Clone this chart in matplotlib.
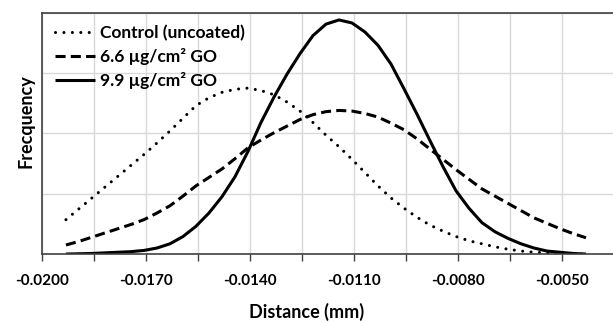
"""Frequency vs distance curves for control and GO-coated samples."""

import matplotlib

matplotlib.use("Agg")

import matplotlib.pyplot as plt  # noqa: E402
from matplotlib.ticker import FixedLocator, FixedFormatter  # noqa: E402

# distance (mm), common sample points for all three series
distance = [-0.0193, -0.018925, -0.01855, -0.018175, -0.0178, -0.017425,
            -0.01705, -0.016675, -0.0163, -0.015925, -0.01555, -0.015175,
            -0.0148, -0.014425, -0.01405, -0.013675, -0.0133, -0.012925,
            -0.01255, -0.012175, -0.0118, -0.011425, -0.01105, -0.010675,
            -0.0103, -0.009925, -0.00955, -0.009175, -0.0088, -0.008425,
            -0.00805, -0.007675, -0.0073, -0.006925, -0.00655, -0.006175,
            -0.0058, -0.005425, -0.00505, -0.004675, -0.0043]

control = [0.57, 0.75, 0.93, 1.11, 1.29, 1.47, 1.65, 1.84, 2.04, 2.25, 2.46,
           2.59, 2.68, 2.73, 2.75, 2.71, 2.64, 2.52, 2.37, 2.18, 1.97, 1.78,
           1.57, 1.35, 1.13, 0.93, 0.76, 0.61, 0.48, 0.38, 0.29, 0.22, 0.17,
           0.12, 0.08, 0.05, 0.03, 0.02, 0.01, 0.0, 0.0]
go_66 = [0.15, 0.21, 0.28, 0.35, 0.42, 0.49, 0.57, 0.68, 0.80, 0.96, 1.13,
         1.27, 1.41, 1.58, 1.76, 1.89, 2.01, 2.12, 2.23, 2.31, 2.36, 2.38,
         2.37, 2.33, 2.27, 2.17, 2.06, 1.91, 1.74, 1.57, 1.40, 1.24, 1.08,
         0.96, 0.84, 0.72, 0.60, 0.51, 0.42, 0.34, 0.27]
go_99 = [0.0, 0.005, 0.01, 0.02, 0.03, 0.04, 0.06, 0.10, 0.17, 0.29, 0.46,
         0.68, 0.95, 1.28, 1.70, 2.18, 2.60, 2.98, 3.32, 3.62, 3.81, 3.88,
         3.83, 3.68, 3.46, 3.15, 2.74, 2.32, 1.88, 1.45, 1.05, 0.76, 0.52,
         0.37, 0.26, 0.17, 0.10, 0.05, 0.03, 0.01, 0.0]

labels = ["Control (uncoated)", "6.6 µg/cm² GO", "9.9 µg/cm² GO"]

# x ticks every 0.0015 from -0.0200, labelled every other one
x_ticks = [-0.0200, -0.0185, -0.0170, -0.0155, -0.0140, -0.0125, -0.0110,
           -0.0095, -0.0080, -0.0065, -0.0050]
x_tick_labels = ["-0.0200", "", "-0.0170", "", "-0.0140", "", "-0.0110",
                 "", "-0.0080", "", "-0.0050"]

plt.rcParams["font.family"] = ["Lato", "DejaVu Sans"]
plt.rcParams["font.weight"] = "bold"

fig = plt.figure(figsize=(6.13, 3.22), dpi=100)
ax = fig.add_axes([0.068, 0.211, 0.932, 0.7496])

lw = 2.2
ax.plot(distance, control, color="black", lw=lw, linestyle=(0, (0.01, 2.75)),
        dash_capstyle="round", label=labels[0])
ax.plot(distance, go_66, color="black", lw=lw, linestyle=(0, (3.3, 1.7)),
        dash_capstyle="butt", label=labels[1])
ax.plot(distance, go_99, color="black", lw=lw, solid_capstyle="butt", label=labels[2])

ax.set_xlim(-0.0200, -0.00352)
ax.set_ylim(0, 4.0)
ax.xaxis.set_major_locator(FixedLocator(x_ticks))
ax.xaxis.set_major_formatter(FixedFormatter(x_tick_labels))
ax.set_yticks([1, 2, 3, 4])
ax.tick_params(axis="x", direction="out", length=5, width=1, color="#404040",
               labelsize=11, pad=9)
ax.tick_params(axis="y", length=0, labelleft=False)
ax.grid(True, color="#d9d9d9", lw=1)
ax.set_axisbelow(True)

for side in ["left", "top", "bottom"]:
    ax.spines[side].set_color("#404040")
    ax.spines[side].set_linewidth(1.2)
ax.spines["right"].set_visible(False)

ax.set_xlabel("Distance (mm)", fontsize=13, fontweight="bold")
ax.xaxis.set_label_coords((307 - 41.7) / 571.3, -(303 - 254) / 240, transform=ax.transAxes)
ax.set_ylabel("Frecquency", fontsize=13, fontweight="bold")
ax.yaxis.set_label_coords(-(41.7 - 35) / 571.3, (254 - 121.5) / 240, transform=ax.transAxes)

ax.legend(loc="upper left", bbox_to_anchor=(0.023, 0.948), frameon=False,
          fontsize=12.5, handlelength=2.3, handletextpad=0.3, labelspacing=0.4,
          borderpad=0, borderaxespad=0)

fig.savefig("out.png", dpi=100)
plt.close(fig)
